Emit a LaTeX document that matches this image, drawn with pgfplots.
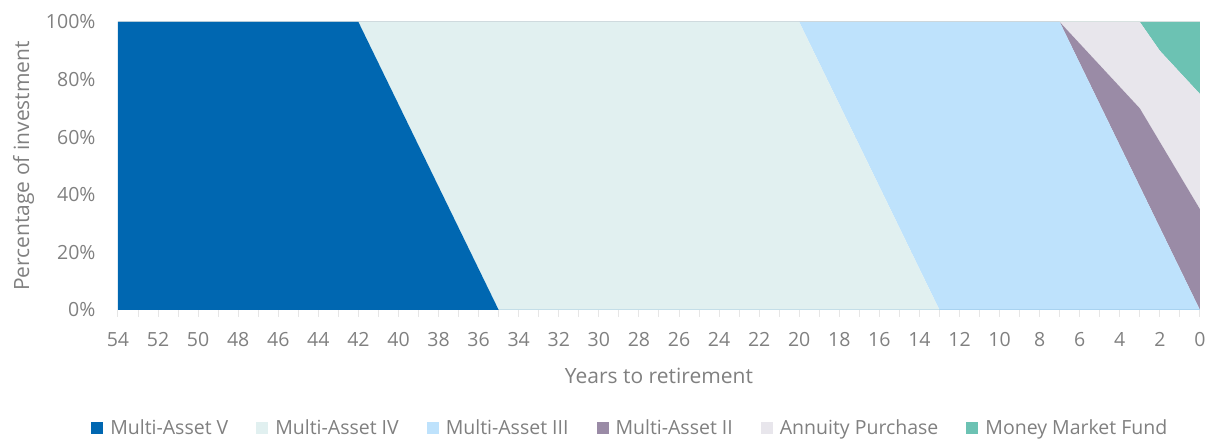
\documentclass[border=0pt]{standalone}
\usepackage{pgfplots}
\pgfplotsset{compat=1.18}
\usepackage{pgfplotstable}
\usepackage{fontspec}
\setmainfont{Open Sans}
\definecolor{cV}{HTML}{0067B1}
\definecolor{cIV}{HTML}{E1F0F0}
\definecolor{cIII}{HTML}{BEE2FC}
\definecolor{cII}{HTML}{9A8BA6}
\definecolor{cA}{HTML}{E8E6EC}
\definecolor{cM}{HTML}{6CC2B3}
\definecolor{txt}{HTML}{808080}
\definecolor{ln}{HTML}{E6E6E6}
\pgfplotstableread{
x V IV III II A M
54 100 0 0 0 0 0
42 100 0 0 0 0 0
35 0 100 0 0 0 0
20 0 100 0 0 0 0
13 0 0 100 0 0 0
7 0 0 100 0 0 0
3 0 0 42.86 27.14 30 0
2 0 0 28.57 29.76 31.67 10
0 0 0 0 35 40 25
}\data
\begin{document}
\begin{tikzpicture}
\useasboundingbox (0,0) rectangle (1208pt,439pt);
\begin{axis}[
  at={(118pt,129pt)}, anchor=south west,
  scale only axis, width=1082pt, height=288pt,
  x dir=reverse, xmin=0, xmax=54, ymin=0, ymax=100,
  stack plots=y,
  xtick={0,2,...,54}, minor xtick={1,3,...,53},
  ytick={0,20,...,100},
  yticklabel={\pgfmathprintnumber{\tick}\%},
  /pgf/number format/assume math mode=true,
  axis x line*=bottom, axis y line*=left,
  axis line style={-, draw=ln, line width=1pt},
  y axis line style={draw=none},
  ytick style={draw=none},
  xtick style={draw=ln, line width=1pt},
  minor tick style={draw=ln, line width=1pt},
  tick align=outside, major tick length=7pt, minor tick length=7pt,
  ymajorgrids, grid style={draw=ln, line width=1pt},
  tick label style={font=\fontsize{19.5}{22}\selectfont, text=txt},
  x tick label style={yshift=-12pt},
  y tick label style={xshift=-12pt},
  xlabel={Years to retirement}, ylabel={Percentage of investment},
  label style={font=\fontsize{21}{24}\selectfont, text=txt},
  xlabel style={yshift=-14pt},
  ylabel style={yshift=5pt},
  legend columns=6,
  legend style={at={(0.4735,-0.41)}, anchor=center, draw=none, fill=none,
    font=\fontsize{19.5}{22}\selectfont, text=txt,
    /tikz/every even column/.append style={column sep=26pt},
    /tikz/every odd column/.append style={column sep=5pt}},
  legend cell align=left,
  legend image code/.code={\fill[#1] (0pt,-6pt) rectangle (12pt,6pt);},
]
\addplot[fill=cV, draw=none] table[x=x,y=V]{\data} \closedcycle;
\addplot[fill=cIV, draw=none] table[x=x,y=IV]{\data} \closedcycle;
\addplot[fill=cIII, draw=none] table[x=x,y=III]{\data} \closedcycle;
\addplot[fill=cII, draw=none] table[x=x,y=II]{\data} \closedcycle;
\addplot[fill=cA, draw=none] table[x=x,y=A]{\data} \closedcycle;
\addplot[fill=cM, draw=none] table[x=x,y=M]{\data} \closedcycle;
\legend{Multi-Asset V, Multi-Asset IV, Multi-Asset III, Multi-Asset II, Annuity Purchase, Money Market Fund}
\end{axis}
\end{tikzpicture}
\end{document}
